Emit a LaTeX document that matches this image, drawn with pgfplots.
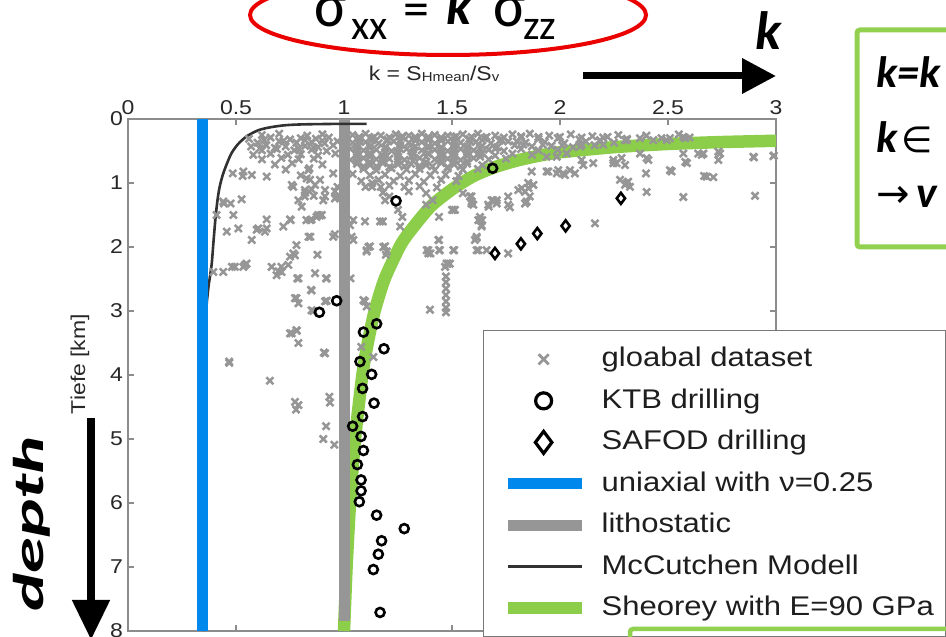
\documentclass[border=0pt]{standalone}
\usepackage{fontspec}
\usepackage{graphicx}
\usepackage{pgfplots}
\pgfplotsset{compat=1.18}
\usetikzlibrary{arrows.meta}
\setmainfont{Liberation Sans}
\newfontfamily\arialS[FakeStretch=1.15]{Liberation Sans}
\newfontfamily\calfont{Carlito}
\newfontfamily\dejavu{DejaVu Sans}
\definecolor{xgray}{RGB}{150,150,150}
\definecolor{bargray}{RGB}{150,150,150}
\definecolor{ublue}{RGB}{0,136,236}
\definecolor{sgreen}{RGB}{140,206,74}
\definecolor{axgray}{RGB}{140,140,140}
\definecolor{labgray}{RGB}{40,40,40}
\definecolor{legtext}{RGB}{30,30,30}
\definecolor{leggray}{RGB}{120,120,120}
\definecolor{mcc}{RGB}{50,50,50}
\definecolor{slgreen}{RGB}{146,208,80}
\definecolor{ered}{RGB}{235,0,0}
\pgfplotsset{
  mylegline/.style={legend image code/.code={\path[draw=none,fill=none] (0pt,0pt) -- (86pt,0pt); \draw[##1] (12pt,0pt) -- (86pt,0pt);}},
  mylegmark/.style={legend image code/.code={\path[draw=none,fill=none] (0pt,0pt) -- (86pt,0pt); \draw[##1] plot coordinates {(48pt,0pt)};}},
}
\begin{document}
\begin{tikzpicture}[x=1pt,y=1pt]
\useasboundingbox (0,0) rectangle (946,637);
\clip (0,0) rectangle (946,637);
\begin{axis}[
  at={(128pt,6pt)}, anchor=south west,
  scale only axis, width=648pt, height=512pt,
  xmin=0, xmax=3, ymin=0, ymax=8, y dir=reverse,
  xtick={0,0.5,1,1.5,2,2.5,3}, ytick={0,1,2,3,4,5,6,7,8},
  xtick pos=both, ytick pos=both,
  xticklabel pos=right, yticklabel pos=left,
  tick align=inside, major tick length=6pt,
  axis line style={draw=axgray, line width=1.1pt},
  tick style={draw=axgray, line width=1.1pt},
  /pgf/number format/assume math mode=true,
  ticklabel style={font=\arialS\fontsize{20}{22}\selectfont, text=labgray},
  xticklabel style={yshift=1pt},
  yticklabel style={inner xsep=5pt},
  legend cell align=left,
  legend style={
    at={(0.5478,0.588)}, anchor=north west,
    draw=leggray, line width=1.3pt, fill=white,
    inner xsep=12pt, inner ysep=8pt,
    row sep=0pt, column sep=14pt,
    font=\arialS\fontsize{27}{30}\selectfont,
    text=legtext,
    nodes={inner sep=0pt, text height=28pt, text depth=13.5pt},
  },
]
% legend entries (in legend order)
\addlegendimage{mylegmark, only marks, mark=x, mark size=7.2pt, color=xgray, mark options={line width=2.8pt}}
\addlegendentry{gloabal dataset}
\addlegendimage{mylegmark, only marks, mark=o, mark size=8pt, color=black, mark options={line width=3.2pt}}
\addlegendentry{KTB drilling}
\addlegendimage{mylegmark, only marks, mark=diamond, mark size=11pt, color=black, mark options={line width=3.2pt}}
\addlegendentry{SAFOD drilling}
\addlegendimage{mylegline, color=ublue, line width=11pt}
\addlegendentry{uniaxial with ν=0.25}
\addlegendimage{mylegline, color=bargray, line width=11pt}
\addlegendentry{lithostatic}
\addlegendimage{mylegline, color=mcc, line width=3pt}
\addlegendentry{McCutchen Modell}
\addlegendimage{mylegline, color=sgreen, line width=12pt}
\addlegendentry{Sheorey with E=90 GPa}

% global dataset
\addplot[forget plot, only marks, mark=x, mark size=5pt, color=xgray, mark options={line width=2.5pt}] coordinates {
(0.62,0.25)(0.70,0.23)(0.83,0.26)(0.90,0.24)(1.04,0.25)(1.10,0.23)(1.17,0.26)(1.24,0.24)(1.30,0.26)(1.36,0.23)(1.42,0.25)(1.48,0.26)(1.55,0.24)(1.62,0.23)(1.70,0.26)(1.78,0.24)(1.86,0.23)(1.95,0.26)(2.05,0.24)(2.15,0.27)(2.27,0.25)(2.40,0.26)(2.55,0.24)
(0.56,0.31)(0.66,0.29)(0.75,0.32)(0.80,0.30)(0.87,0.31)(0.93,0.29)(1.07,0.31)(1.13,0.30)(1.20,0.32)(1.27,0.29)(1.33,0.31)(1.39,0.30)(1.45,0.32)(1.51,0.29)(1.58,0.31)(1.65,0.30)(1.73,0.32)(1.82,0.29)(1.90,0.31)(1.99,0.30)(2.09,0.32)(2.20,0.29)(2.31,0.31)(2.47,0.30)(2.60,0.29)
(0.60,0.37)(0.70,0.35)(0.78,0.37)(0.85,0.36)(0.91,0.38)(0.97,0.35)(1.04,0.37)(1.10,0.36)(1.16,0.38)(1.23,0.35)(1.30,0.37)(1.36,0.36)(1.42,0.38)(1.48,0.35)(1.54,0.37)(1.61,0.36)(1.68,0.38)(1.76,0.35)(1.84,0.37)(1.93,0.36)(2.02,0.38)(2.12,0.35)(2.25,0.37)
(0.57,0.43)(0.64,0.41)(0.73,0.43)(0.82,0.42)(0.88,0.44)(0.95,0.41)(1.06,0.43)(1.12,0.42)(1.19,0.44)(1.26,0.41)(1.33,0.43)(1.39,0.42)(1.45,0.44)(1.51,0.41)(1.57,0.43)(1.64,0.42)(1.71,0.44)(1.79,0.41)(1.87,0.43)(1.96,0.42)(2.06,0.44)(2.16,0.41)
(0.62,0.49)(0.69,0.47)(0.77,0.49)(0.85,0.48)(0.92,0.50)(1.03,0.47)(1.09,0.49)(1.15,0.48)(1.22,0.50)(1.29,0.47)(1.36,0.49)(1.42,0.48)(1.48,0.50)(1.54,0.47)(1.60,0.49)(1.67,0.48)(1.74,0.50)(1.82,0.47)(1.90,0.49)(1.99,0.48)
(0.58,0.56)(0.66,0.54)(0.74,0.56)(0.80,0.55)(0.88,0.57)(0.96,0.54)(1.06,0.56)(1.12,0.55)(1.18,0.57)(1.25,0.54)(1.32,0.56)(1.39,0.55)(1.45,0.57)(1.51,0.54)(1.57,0.56)(1.63,0.55)(1.70,0.57)(1.78,0.54)(1.87,0.56)
(0.62,0.63)(0.71,0.61)(0.79,0.63)(0.86,0.62)(1.03,0.64)(1.09,0.61)(1.15,0.63)(1.21,0.62)(1.28,0.64)(1.35,0.61)(1.42,0.63)(1.48,0.62)(1.54,0.64)(1.60,0.61)(1.67,0.63)(1.75,0.62)
(0.68,0.71)(0.76,0.69)(0.90,0.71)(1.06,0.70)(1.12,0.72)(1.18,0.69)(1.25,0.71)(1.31,0.70)(1.38,0.72)(1.45,0.69)(1.51,0.71)(1.57,0.70)(1.64,0.72)
(0.73,0.79)(0.84,0.77)(1.00,0.79)(1.09,0.78)(1.15,0.80)(1.22,0.77)(1.29,0.79)(1.35,0.78)(1.42,0.80)(1.48,0.77)(1.55,0.79)(1.62,0.78)
(0.80,0.88)(1.04,0.86)(1.12,0.88)(1.19,0.87)(1.26,0.89)(1.33,0.86)(1.40,0.88)(1.47,0.87)(1.53,0.89)
(1.08,0.97)(1.16,0.95)(1.23,0.97)(1.30,0.96)(1.37,0.98)(1.45,0.95)(1.52,0.97)
(1.13,1.06)(1.21,1.04)(1.28,1.06)(1.35,1.05)(1.43,1.07)
(1.18,1.15)(1.30,1.13)(1.38,1.16)
(1.07,0.28)(1.14,0.28)(1.21,0.29)(1.27,0.27)(1.33,0.28)(1.39,0.28)(1.45,0.29)(1.52,0.27)(1.59,0.28)(1.66,0.28)(1.74,0.29)(1.82,0.27)(1.90,0.28)(2.00,0.28)(2.10,0.29)(2.22,0.28)
(1.01,0.34)(1.07,0.34)(1.13,0.33)(1.20,0.34)(1.26,0.35)(1.33,0.34)(1.39,0.33)(1.45,0.34)(1.51,0.35)(1.58,0.34)(1.64,0.33)(1.72,0.34)(1.80,0.35)(0.63,0.33)(0.72,0.34)(0.82,0.33)(0.90,0.34)
(1.83,0.40)(1.92,0.40)(2.01,0.41)(2.10,0.40)(2.20,0.40)
(1.00,0.46)(1.06,0.46)(1.12,0.45)(1.19,0.46)(1.26,0.47)(1.32,0.46)(1.39,0.45)(1.45,0.46)(1.51,0.47)(1.57,0.46)(1.63,0.45)(1.70,0.46)(0.61,0.46)(0.68,0.45)(0.79,0.46)(0.86,0.45)
(1.06,0.52)(1.12,0.53)(1.19,0.52)(1.25,0.51)(1.32,0.52)(1.39,0.53)(1.45,0.52)(1.51,0.51)(1.57,0.52)(1.64,0.53)
(1.06,0.59)(1.12,0.59)(1.18,0.60)(1.25,0.59)(1.31,0.58)(1.38,0.59)(1.45,0.60)(1.51,0.59)(1.57,0.58)(1.63,0.59)
(1.06,0.66)(1.12,0.67)(1.18,0.66)(1.25,0.65)(1.32,0.66)(1.38,0.67)(1.45,0.66)(1.51,0.65)(1.57,0.66)
(1.09,0.74)(1.15,0.74)(1.21,0.75)(1.28,0.74)(1.35,0.73)(1.41,0.74)(1.48,0.75)(1.54,0.74)
(0.485,0.85)(0.531,0.89)(0.573,0.875)(0.526,1.255)(0.444,1.32)(0.475,1.32)(0.488,1.5)(0.41,1.5)(0.457,1.76)(0.511,1.71)(0.573,1.89)(0.596,1.73)(0.634,1.76)(0.642,1.71)(0.753,1.58)(0.719,1.68)(0.765,1.06)(0.835,0.8)(0.827,0.93)(0.85,1.1)(0.82,1.15)(0.86,1.2)(0.889,0.95)(0.912,1.11)(0.95,0.85)(0.844,1.58)(0.88,1.5)(0.897,1.5)(0.844,1.84)(0.877,2.12)(0.78,1.97)(0.765,2.1)(0.75,2.15)(0.665,2.31)(0.696,2.38)(0.71,2.31)(0.742,2.28)(0.441,2.39)(0.495,2.31)(0.542,2.28)(0.549,2.26)(0.395,2.39)(0.789,2.49)(0.866,2.41)(0.92,2.49)(0.847,2.67)(0.78,2.8)(0.789,2.88)(0.858,3.0)(0.92,2.84)(0.75,3.35)(0.78,3.3)(0.789,3.5)(0.912,3.66)(0.468,3.79)
(1.043,1.58)(1.028,1.66)(1.097,1.6)(1.167,1.6)(1.105,2.05)(1.113,2.0)(1.182,2.0)(1.194,2.12)(0.95,1.84)(1.043,1.89)(1.03,2.49)(1.09,2.83)(1.105,2.93)(1.398,2.98)(1.44,1.89)(1.39,2.05)(1.4,2.1)(1.44,2.05)(1.51,2.05)(1.475,2.26)(1.468,2.31)(1.472,2.46)(1.472,2.55)(1.472,2.65)(1.472,2.75)(1.472,2.85)(1.472,2.95)(1.472,3.02)(1.614,2.05)(1.614,1.84)(1.66,2.05)(1.63,1.53)(1.64,1.58)(1.69,1.27)(1.67,1.37)(1.5,1.42)(1.44,1.53)(1.38,1.34)(1.41,1.27)(1.55,1.16)(1.59,1.21)(1.25,1.42)(1.27,1.53)(1.26,1.68)(1.18,1.6)(1.19,1.27)(1.21,1.21)(1.17,1.06)(1.13,1.0)(1.1,1.06)(0.966,1.21)(0.98,1.24)(0.97,1.06)(0.904,1.27)(0.789,1.27)(0.804,1.37)(0.826,1.58)
(0.534,0.82)(0.642,0.9)(0.758,1.03)(0.819,1.11)(0.819,1.21)(0.843,0.95)(0.866,1.03)(0.912,1.21)(0.958,1.13)(0.958,1.24)(0.441,1.29)(0.603,1.71)(0.75,1.57)(0.642,1.57)(0.85,1.57)(0.873,1.53)(0.889,1.51)(0.773,2.13)(0.836,1.84)(0.958,1.8)(1.035,1.84)(1.12,1.99)(1.105,2.07)(1.19,1.99)(1.198,2.07)
(0.481,2.31)(0.534,2.31)(0.688,2.44)(0.711,2.39)(0.784,2.49)(0.917,2.49)(0.85,2.68)(0.773,2.8)(0.912,2.85)(0.85,2.99)(1.097,2.85)(1.49,2.26)(0.758,3.35)(0.781,3.31)(0.469,3.81)(0.907,3.65)(0.657,4.09)(0.773,4.42)(0.789,4.47)(0.778,4.54)(0.932,4.34)(0.935,4.43)(1.136,3.72)(1.08,3.56)(0.917,4.8)(0.904,5.0)(0.955,5.09)
(2.898,0.6)(2.99,0.57)(2.903,1.2)(2.571,1.22)(2.401,1.14)(2.398,0.85)(2.517,0.82)(2.58,0.67)(2.667,0.89)(2.71,0.91)(2.64,0.54)(2.656,0.56)(2.741,0.54)(2.733,0.64)(2.571,0.54)(2.37,0.54)(2.409,0.64)(2.247,0.64)(2.247,0.69)(2.278,0.95)(2.309,1.0)(2.324,1.06)(2.162,1.63)(2.1,0.64)(2.046,0.8)(2.015,0.85)(1.992,0.8)(1.938,0.82)(1.877,1.03)(1.854,1.08)(1.838,1.14)(1.807,1.11)(1.76,1.21)(1.76,1.34)(1.838,1.32)(1.707,1.27)(1.668,1.34)(1.622,1.58)(1.637,1.66)(1.606,1.89)(1.622,2.05)(1.76,2.1)(1.506,1.42)(1.583,1.21)(1.59,1.32)(1.437,1.89)(1.444,2.05)(1.506,2.05)(1.383,2.05)(1.39,2.1)(1.481,2.26)(2.093,0.43)(2.185,0.33)(2.309,0.33)(2.494,0.33)(2.571,0.28)(1.938,0.59)(1.985,0.59)(2.031,0.54)
(2.401,0.61)(2.509,0.8)(2.58,0.3)(2.509,0.3)(2.588,0.69)(2.679,0.9)(2.664,0.54)(2.733,0.51)(2.895,0.59)(2.988,0.58)(2.285,0.61)(2.301,0.72)(2.316,0.98)(2.301,1.03)(2.262,0.69)(2.154,0.69)(2.108,0.72)(2.069,0.85)(2.023,0.875)(1.985,0.85)(1.946,0.82)(1.869,0.82)(1.853,1.0)(1.823,1.08)(1.86,1.21)(1.846,1.29)(1.768,1.38)(1.684,1.27)(1.707,1.32)(1.63,1.58)(1.637,1.68)(1.591,1.29)(1.599,1.34)(1.514,1.42)(1.614,1.86)(2.37,0.3)(2.432,0.33)(2.185,0.35)(2.301,0.33)
};
% KTB drilling
\addplot[forget plot, only marks, mark=o, mark size=4.5pt, color=black, mark options={line width=2.6pt}] coordinates {
(1.241,1.28)(1.688,0.77)(0.886,3.02)(0.966,2.84)(1.151,3.2)(1.09,3.33)(1.185,3.59)(1.074,3.79)(1.128,3.99)(1.086,4.21)(1.139,4.44)(1.086,4.65)(1.04,4.8)(1.079,4.96)(1.09,5.18)(1.062,5.4)(1.079,5.64)(1.079,5.81)(1.071,5.98)(1.151,6.19)(1.279,6.4)(1.174,6.59)(1.159,6.8)(1.136,7.04)(1.167,7.71)
};
% SAFOD drilling
\addplot[forget plot, only marks, mark=diamond, mark size=5.5pt, color=black, mark options={line width=2.6pt}] coordinates {
(1.699,2.1)(1.819,1.95)(1.895,1.79)(2.026,1.67)(2.282,1.24)
};
% Sheorey
\addplot[forget plot, color=sgreen, line width=12.5pt, smooth, tension=0.4] coordinates {
(3.0,0.34)(2.75,0.36)(2.5,0.39)(2.25,0.44)(2.0,0.52)(1.9,0.575)(1.8,0.65)(1.7,0.75)(1.6,0.89)(1.5,1.1)(1.4,1.37)(1.3,1.78)(1.257,2.0)(1.188,2.5)(1.142,3.0)(1.11,3.5)(1.085,4.0)(1.051,5.0)(1.028,6.0)(1.012,7.0)(1.0,8.0)
};
% lithostatic
\addplot[forget plot, color=bargray, line width=11pt] coordinates {(1.0,0)(1.0,7.85)};
% McCutchen
\addplot[forget plot, color=mcc, line width=2.6pt, smooth, tension=0.5] coordinates {
(1.105,0.075)(0.95,0.077)(0.8,0.085)(0.72,0.1)(0.65,0.135)(0.6,0.18)(0.55,0.27)(0.51,0.39)(0.48,0.53)(0.46,0.68)(0.44,0.86)(0.425,1.05)(0.415,1.25)(0.405,1.55)(0.395,1.95)(0.388,2.25)(0.38,2.45)(0.37,2.7)(0.36,3.2)(0.355,5)(0.35,8)
};
% uniaxial
\addplot[forget plot, color=ublue, line width=11pt] coordinates {(0.345,0)(0.345,8)};
\end{axis}

% axis title and label
\node[anchor=base, inner sep=0pt, text=labgray] at (434,556) {\arialS\fontsize{20}{24}\selectfont k = S\raisebox{-1pt}{\fontsize{13}{14}\selectfont Hmean}/S\raisebox{-1pt}{\fontsize{13}{14}\selectfont v}};
\node[rotate=90, inner sep=0pt, text=labgray] at (80,273) {\arialS\fontsize{20}{24}\selectfont Tiefe [km]};

% red ellipse with formula
\draw[ered, line width=4pt] (448,622) ellipse [x radius=198, y radius=40];
\node[anchor=base west, inner sep=0pt] at (314,610) {\calfont\fontsize{62}{70}\selectfont σ};
\node[anchor=base west, inner sep=0pt] at (351,597) {\calfont\fontsize{42}{48}\selectfont xx};
\node[anchor=base west, inner sep=0pt] at (403,610) {\calfont\fontsize{52}{60}\selectfont =};
\node[anchor=base west, inner sep=0pt] at (446,612) {\calfont\bfseries\itshape\fontsize{52}{60}\selectfont k};
\node[anchor=base west, inner sep=0pt] at (493,610) {\calfont\fontsize{62}{70}\selectfont σ};
\node[anchor=base west, inner sep=0pt] at (523,597) {\calfont\fontsize{42}{48}\selectfont zz};

% k arrow
\node[anchor=base west, inner sep=0pt] at (755,587) {\calfont\bfseries\itshape\fontsize{54}{60}\selectfont k};
\draw[line width=7pt, -{Triangle[length=34pt, width=34pt]}] (583,561) -- (776,561);

% green box top right
\draw[slgreen, line width=5pt, rounded corners=3pt] (1000,607) -- (857,607) -- (857,390) -- (1000,390);
\node[anchor=base west, inner sep=0pt] at (876,549) {\calfont\bfseries\itshape\fontsize{44}{50}\selectfont k=k};
\node[anchor=base west, inner sep=0pt] at (876,484) {\calfont\bfseries\itshape\fontsize{44}{50}\selectfont k};
\node[anchor=base west, inner sep=0pt] at (901,484) {\dejavu\fontsize{36}{40}\selectfont ∈};
\node[anchor=base west, inner sep=0pt] at (876,429) {\dejavu\fontsize{40}{44}\selectfont →};
\node[anchor=base west, inner sep=0pt] at (916,429) {\calfont\bfseries\itshape\fontsize{44}{50}\selectfont v};

% depth arrow
\node[rotate=90, inner sep=0pt] at (31.5,113) {\resizebox*{175pt}{37pt}{\calfont\bfseries\itshape depth}};
\draw[line width=8pt, -{Triangle[length=40pt, width=36pt]}] (91,219) -- (91,-3);

% green box bottom right
\draw[slgreen, line width=4.5pt, rounded corners=3pt] (1000,8) -- (630,8) -- (630,-40);
\end{tikzpicture}
\end{document}
